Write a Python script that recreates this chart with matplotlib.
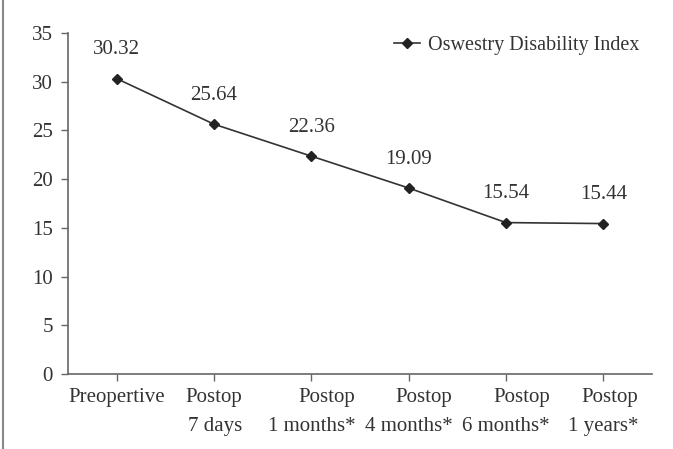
import numpy as np
import matplotlib.pyplot as plt
from matplotlib.lines import Line2D

categories = ['Preopertive', 'Postop\n7 days', 'Postop\n1 months*', 'Postop\n4 months*',
              'Postop\n6 months*', 'Postop\n1 years*']
odi = [30.32, 25.64, 22.36, 19.09, 15.54, 15.44]

plt.rcParams['font.family'] = ['Liberation Serif', 'DejaVu Serif']

fig = plt.figure(figsize=(6.73, 4.49), dpi=100)
ax = fig.add_axes([68 / 673, 1 - 374 / 449, (652 - 68) / 673, (374 - 33) / 449])

x = np.arange(len(categories))
ax.plot(x, odi, color='#333333', lw=1.2, marker='D', ms=5, mfc='#222222', mec='#222222',
        label='Oswestry Disability Index')
for xi, v in zip(x, odi):
    ax.annotate(f'{v:.2f}', (xi, v), xytext=(0, 14), textcoords='offset points',
                ha='center', va='bottom', fontsize=15, color='#333333')

ax.set_xlim(-0.5, 5.5)
ax.set_ylim(0, 35)
ax.set_yticks(range(0, 36, 5))
ax.set_xticks(x)
ax.set_xticklabels(categories, fontsize=15, color='#333333', multialignment='right',
                   linespacing=1.7)
ax.tick_params(axis='y', labelsize=15, colors='#333333', length=5, width=1, color='#666666',
               pad=6)
ax.tick_params(axis='x', length=5, width=1, color='#666666', pad=5)
for s in ['top', 'right']:
    ax.spines[s].set_visible(False)
for s in ['left', 'bottom']:
    ax.spines[s].set_color('#666666')
    ax.spines[s].set_linewidth(1.2)

ax.legend(loc='upper right', frameon=False, fontsize=14.5, handlelength=1.3,
          handletextpad=0.4, bbox_to_anchor=(1.01, 1.045), labelcolor='#333333')

fig.add_artist(Line2D([3 / 673, 3 / 673], [0, 1], color='#888888', lw=1.5))

fig.savefig('out.png', dpi=100)
